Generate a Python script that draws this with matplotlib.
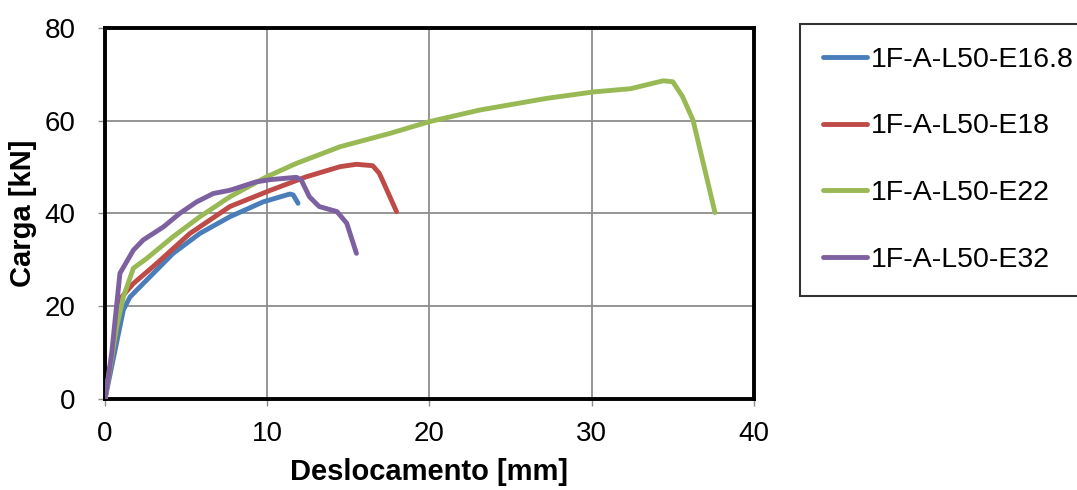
import matplotlib
matplotlib.use('Agg')
import matplotlib.pyplot as plt

plt.rcParams['font.family'] = ['Liberation Sans', 'DejaVu Sans']

# load-displacement curves
x_e168 = [0, 1.13, 1.54, 2.16, 2.98, 4.2, 5.85, 7.7, 9.75, 11.4, 11.6, 11.9]
y_e168 = [0, 19.2, 22.0, 24.2, 27.1, 31.4, 35.7, 39.3, 42.5, 44.2, 44.0, 42.2]

x_e18 = [0, 1.03, 1.75, 3.18, 5.24, 7.7, 10.2, 12.4, 14.5, 15.5, 16.5, 16.9, 17.1, 17.97]
y_e18 = [0, 22.0, 24.9, 29.2, 35.7, 41.5, 45.0, 47.9, 50.1, 50.6, 50.3, 48.7, 47.2, 40.4]

x_e22 = [0, 0.72, 1.13, 1.75, 2.57, 4.2, 5.85, 7.7, 9.96, 11.8, 14.5, 17.6, 20.0, 23.1,
         27.2, 30.1, 32.4, 34.4, 35.0, 35.6, 36.25, 37.6]
y_e22 = [0, 15.6, 22.0, 28.2, 30.3, 35.0, 39.3, 43.6, 47.9, 50.8, 54.4, 57.3, 59.8, 62.3,
         64.8, 66.2, 66.9, 68.6, 68.4, 65.2, 60.1, 40.2]

x_e32 = [0, 0.41, 0.92, 1.75, 2.36, 3.6, 4.6, 5.65, 6.67, 7.7, 9.3, 10.2, 11.8, 12.1,
         12.6, 13.2, 14.3, 14.9, 15.5]
y_e32 = [0, 9.8, 27.1, 32.1, 34.3, 37.1, 40.0, 42.5, 44.3, 45.0, 46.8, 47.3, 47.8, 47.2,
         43.6, 41.5, 40.4, 37.9, 31.4]

labels = ['1F-A-L50-E16.8', '1F-A-L50-E18', '1F-A-L50-E22', '1F-A-L50-E32']
colors = ['#4A7EBB', '#BE4B48', '#98B954', '#7D60A0']

fig = plt.figure(figsize=(10.77, 4.9), dpi=100)
ax = fig.add_axes([0.0975, 0.1857, 0.6025, 0.7573])

series = [(x_e168, y_e168), (x_e18, y_e18), (x_e22, y_e22), (x_e32, y_e32)]
lines = []
for (xs, ys), lab, c in zip(series, labels, colors):
    ln, = ax.plot(xs, ys, color=c, lw=3.5, label=lab, solid_capstyle='round',
                  solid_joinstyle='round', zorder=3)
    lines.append(ln)

ax.set_xlim(0, 40)
ax.set_ylim(0, 80)
ax.set_xticks([0, 10, 20, 30, 40])
ax.set_yticks([0, 20, 40, 60, 80])
ax.grid(True, color='#8c8c8c', lw=1.3)
ax.set_axisbelow(True)
for s in ax.spines.values():
    s.set_linewidth(2.8)
    s.set_color('black')
ax.tick_params(direction='out', length=5, width=1, color='#8c8c8c', labelsize=20)
ax.tick_params(axis='x', pad=11)
ax.tick_params(axis='y', pad=16)
ax.set_xlabel('Deslocamento [mm]', fontsize=21, fontweight='bold', labelpad=8)
ax.set_ylabel('Carga [kN]', fontsize=21, fontweight='bold', labelpad=6)

leg = fig.legend(handles=lines, loc='upper left', bbox_to_anchor=(800 / 1077, 1 - 24 / 490),
                 fontsize=20.5, frameon=True, fancybox=False, edgecolor='black',
                 handlelength=1.55, handletextpad=0.15, labelspacing=1.43,
                 borderpad=0.8, borderaxespad=0)
leg.get_frame().set_linewidth(1.5)

fig.savefig('out.png', dpi=100)
